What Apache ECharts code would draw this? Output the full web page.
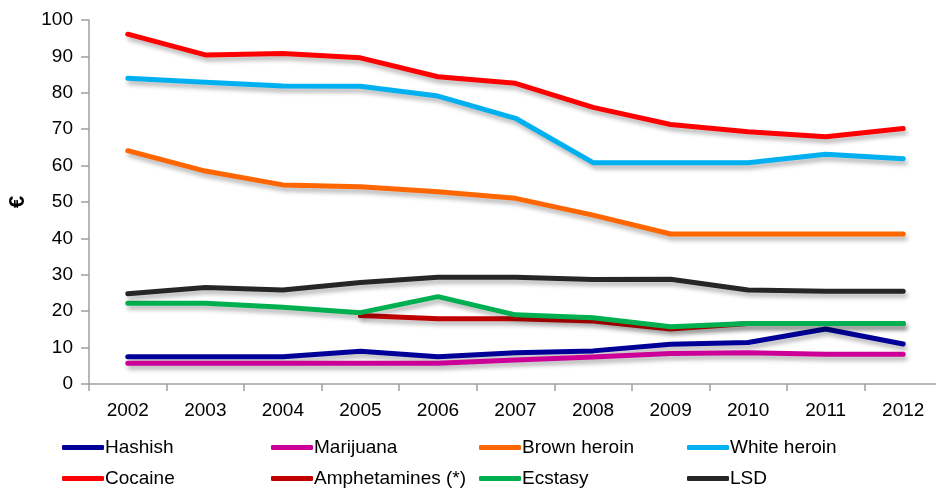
<!DOCTYPE html>
<html>
<head>
<meta charset="utf-8">
<script src="https://cdn.jsdelivr.net/npm/echarts@6/dist/echarts.min.js"></script>
<style>
  html, body { margin: 0; padding: 0; background: #fff; }
  #chart { width: 936px; height: 488px; }
</style>
</head>
<body>
<div id="chart"></div>
<script>
// Street prices per year, euro
const years = ['2002','2003','2004','2005','2006','2007','2008','2009','2010','2011','2012'];

const hashish      = [7.5, 7.5, 7.5, 9.0, 7.5, 8.6, 9.1, 10.9, 11.4, 15.1, 11.0];
const marijuana    = [5.7, 5.7, 5.7, 5.7, 5.7, 6.6, 7.4, 8.4, 8.6, 8.2, 8.2];
const brownHeroin  = [64.1, 58.5, 54.7, 54.2, 52.8, 51.0, 46.4, 41.2, 41.2, 41.2, 41.2];
const whiteHeroin  = [84.0, 82.9, 81.9, 81.8, 79.1, 73.0, 60.8, 60.8, 60.8, 63.1, 61.9];
const cocaine      = [96.1, 90.4, 90.8, 89.6, 84.4, 82.6, 76.0, 71.3, 69.3, 67.9, 70.2];
const amphetamines = [null, null, null, 18.8, 17.9, 17.9, 17.3, 15.1, 16.6, 16.6, 16.6];
const ecstasy      = [22.2, 22.2, 21.1, 19.6, 24.0, 19.0, 18.2, 15.7, 16.6, 16.6, 16.6];
const lsd          = [24.8, 26.5, 25.8, 27.9, 29.3, 29.3, 28.7, 28.8, 25.8, 25.5, 25.5];

const yTicks = { min: 0, max: 100, interval: 10 };

const seriesDefs = [
  { name: 'Hashish',          data: hashish,      color: '#000099' },
  { name: 'Marijuana',        data: marijuana,    color: '#CC0099' },
  { name: 'Brown heroin',     data: brownHeroin,  color: '#FF6600' },
  { name: 'White heroin',     data: whiteHeroin,  color: '#00B0F0' },
  { name: 'Cocaine',          data: cocaine,      color: '#FF0000' },
  { name: 'Amphetamines (*)', data: amphetamines, color: '#C00000' },
  { name: 'Ecstasy',          data: ecstasy,      color: '#00B050' },
  { name: 'LSD',              data: lsd,          color: '#262626' }
];

const FONT = '"Liberation Sans", Arial, sans-serif';

// Legend laid out in two rows of four columns
const legendCols = [57, 266, 474, 682];
const legendRows = [433, 464];
const legends = seriesDefs.map((s, i) => ({
  data: [s.name],
  left: legendCols[i % 4],
  top: legendRows[Math.floor(i / 4)],
  orient: 'horizontal',
  icon: 'roundRect',
  itemWidth: 42,
  itemHeight: 5,
  selectedMode: false,
  textStyle: { fontFamily: FONT, fontSize: 19, color: '#000', padding: [0, 0, 0, -4] }
}));

const chart = echarts.init(document.getElementById('chart'), null, { renderer: 'canvas' });

chart.setOption({
  backgroundColor: '#ffffff',
  animation: false,
  legend: legends,
  grid: {
    left: 89, top: 20, width: 853, bottom: 104,
    containLabel: false,
    outerBoundsMode: 'none'
  },
  xAxis: {
    type: 'category',
    data: years,
    boundaryGap: true,
    axisLine: { lineStyle: { color: '#A0A0A0', width: 1.5 } },
    axisTick: { show: true, length: 7, inside: false, lineStyle: { color: '#A0A0A0', width: 1.5 } },
    axisLabel: { color: '#000', fontFamily: FONT, fontSize: 19, margin: 17 },
    splitLine: { show: false }
  },
  yAxis: {
    type: 'value',
    min: yTicks.min,
    max: yTicks.max,
    interval: yTicks.interval,
    name: '€',
    nameLocation: 'middle',
    nameRotate: 90,
    nameGap: 60,
    nameTextStyle: { fontFamily: FONT, fontSize: 22, fontWeight: 'bold', color: '#000' },
    axisLine: { show: true, lineStyle: { color: '#A0A0A0', width: 1.5 } },
    axisTick: { show: true, length: 8, inside: false, lineStyle: { color: '#A0A0A0', width: 1.5 } },
    axisLabel: { color: '#000', fontFamily: FONT, fontSize: 19, margin: 16 },
    splitLine: { show: false }
  },
  series: seriesDefs.map(s => ({
    name: s.name,
    type: 'line',
    data: s.data,
    color: s.color,
    showSymbol: false,
    symbol: 'none',
    connectNulls: false,
    lineStyle: {
      color: s.color,
      width: 5,
      cap: 'round',
      join: 'round',
      shadowColor: 'rgba(0,0,0,0.28)',
      shadowBlur: 4,
      shadowOffsetX: 2,
      shadowOffsetY: 4
    },
    emphasis: { disabled: true }
  }))
});
</script>
</body>
</html>
